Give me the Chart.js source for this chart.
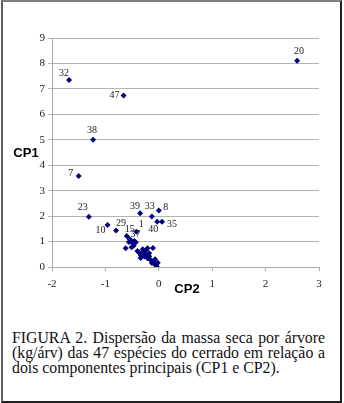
<!DOCTYPE html>
<html lang="pt">
<head>
    <meta charset="UTF-8">
    <title>FIGURA 2</title>
    <script src="https://cdn.jsdelivr.net/npm/chart.js"></script>
    <style>
        * { margin: 0; padding: 0; box-sizing: border-box; }
        body { width: 344px; height: 403px; background: #fff; position: relative; overflow: hidden; }
        .frame {
            position: absolute; left: 1px; top: 0; width: 341px; height: 403px;
            border-style: solid; border-width: 2px;
            border-color: #808080 #202020 #202020 #606060;
        }
        #chart { position: absolute; left: 0; top: 0; }
        .caption {
            position: absolute; left: 12px; top: 330px; width: 313px;
            font-family: 'Liberation Serif', 'Times New Roman', serif;
            font-size: 15.8px; line-height: 15px; color: #111;
            text-align: justify;
        }
    </style>
</head>
<body>
<div class="frame"></div>
<canvas id="chart" width="344" height="300"></canvas>
<p class="caption">FIGURA 2. Dispersão da massa seca por árvore (kg/árv) das 47 espécies do cerrado em relação a dois componentes principais (CP1 e CP2).</p>

<script>
    // espécies (rótulo vazio = ponto sem número no gráfico)
    const especies = ['20', '32', '47', '38', '7', '23', '10', '29', '39', '33', '8', '40', '35', '1', '15', '37',
        '', '', '', '', '', '', '', '', '', '', '', '', '', '', '', '', '', '', '', '', '', '', '', '', '', '', '', '', '', '', ''];
    const cp2 = [2.59, -1.68, -0.66, -1.23, -1.50, -1.31, -0.96, -0.80, -0.35, -0.13, 0.00, -0.03, 0.06, -0.42, -0.60, -0.55,
        -0.62, -0.52, -0.49, -0.46, -0.43, -0.51, -0.47, -0.40, -0.37, -0.34, -0.31, -0.27, -0.24, -0.21, -0.11,
        -0.27, -0.21, -0.18, -0.15, -0.12, -0.09, -0.06, -0.04, -0.07, -0.18, -0.34, -0.24, -0.13, -0.02, -0.30, -0.56];
    const cp1 = [8.11, 7.35, 6.74, 5.00, 3.58, 1.97, 1.65, 1.43, 2.11, 1.98, 2.22, 1.78, 1.78, 1.39, 1.22, 1.10,
        0.74, 1.04, 0.93, 1.02, 0.97, 0.78, 0.84, 0.63, 0.57, 0.47, 0.54, 0.61, 0.67, 0.74, 0.75,
        0.41, 0.34, 0.42, 0.28, 0.21, 0.15, 0.08, 0.03, 0.30, 0.54, 0.35, 0.47, 0.16, 0.17, 0.70, 0.98];
    const xTicks = [-2, -1, 0, 1, 2, 3];
    const yTicks = [0, 1, 2, 3, 4, 5, 6, 7, 8, 9];

    // onde fica cada número em relação ao ponto (px)
    const labelOffset = {
        '20': [2, -9], '32': [-5, -7], '47': [-9, 0], '38': [-1, -9], '7': [-8, -3],
        '23': [-6, -9], '10': [-7, 5], '29': [5, -7], '15': [3, -7], '37': [6, -5],
        '1': [5, -7], '39': [-5, -7], '33': [-2, -10], '8': [7, -3], '40': [-4, 8], '35': [10, 3]
    };

    const pontos = cp2.map((x, i) => ({ x: x, y: cp1[i] }));
    const serif = 'Liberation Serif';

    const rotulos = {
        id: 'rotulos',
        afterDatasetsDraw(chart) {
            const ctx = chart.ctx;
            const meta = chart.getDatasetMeta(0);
            ctx.save();
            ctx.font = '10px "Liberation Serif"';
            ctx.fillStyle = '#222';
            ctx.textAlign = 'center';
            ctx.textBaseline = 'middle';
            meta.data.forEach((el, i) => {
                const nome = especies[i];
                if (!nome) return;
                const off = labelOffset[nome] || [0, -8];
                ctx.fillText(nome, el.x + off[0], el.y + off[1]);
            });
            // títulos dos eixos, na horizontal
            ctx.font = 'bold 13px "Liberation Sans"';
            ctx.fillStyle = '#000';
            ctx.fillText('CP1', 26, 153);
            ctx.fillText('CP2', 187, 289);
            ctx.restore();
        }
    };

    function desenhar() {
        new Chart(document.getElementById('chart'), {
            type: 'scatter',
            data: {
                datasets: [{
                    data: pontos,
                    pointStyle: 'rectRot',
                    pointRadius: 3,
                    pointHoverRadius: 3,
                    backgroundColor: '#000080',
                    borderColor: '#000080',
                    borderWidth: 0
                }]
            },
            options: {
                responsive: false,
                animation: false,
                layout: { padding: { top: 38, right: 25, left: 0, bottom: 0 } },
                plugins: { legend: { display: false }, tooltip: { enabled: false } },
                scales: {
                    x: {
                        type: 'linear', min: -2, max: 3,
                        afterFit: s => { s.height = 33; },
                        afterBuildTicks: s => { s.ticks = xTicks.map(v => ({ value: v })); },
                        grid: { drawOnChartArea: false, drawTicks: true, tickLength: 4, color: '#aaa' },
                        border: { display: true, color: '#aaa' },
                        ticks: { font: { family: serif, size: 11 }, color: '#222', padding: 7, maxRotation: 0 }
                    },
                    y: {
                        type: 'linear', min: 0, max: 9,
                        afterFit: s => { s.width = 52; },
                        afterBuildTicks: s => { s.ticks = yTicks.map(v => ({ value: v })); },
                        grid: { color: '#b4b4b4', drawTicks: true, tickLength: 4 },
                        border: { display: true, color: '#aaa' },
                        ticks: { font: { family: serif, size: 11 }, color: '#222', padding: 3 }
                    }
                }
            },
            plugins: [rotulos]
        });
    }

    Promise.all([
        document.fonts.load('10px "Liberation Serif"'),
        document.fonts.load('bold 13px "Liberation Sans"')
    ]).then(desenhar, desenhar);
</script>
</body>
</html>
